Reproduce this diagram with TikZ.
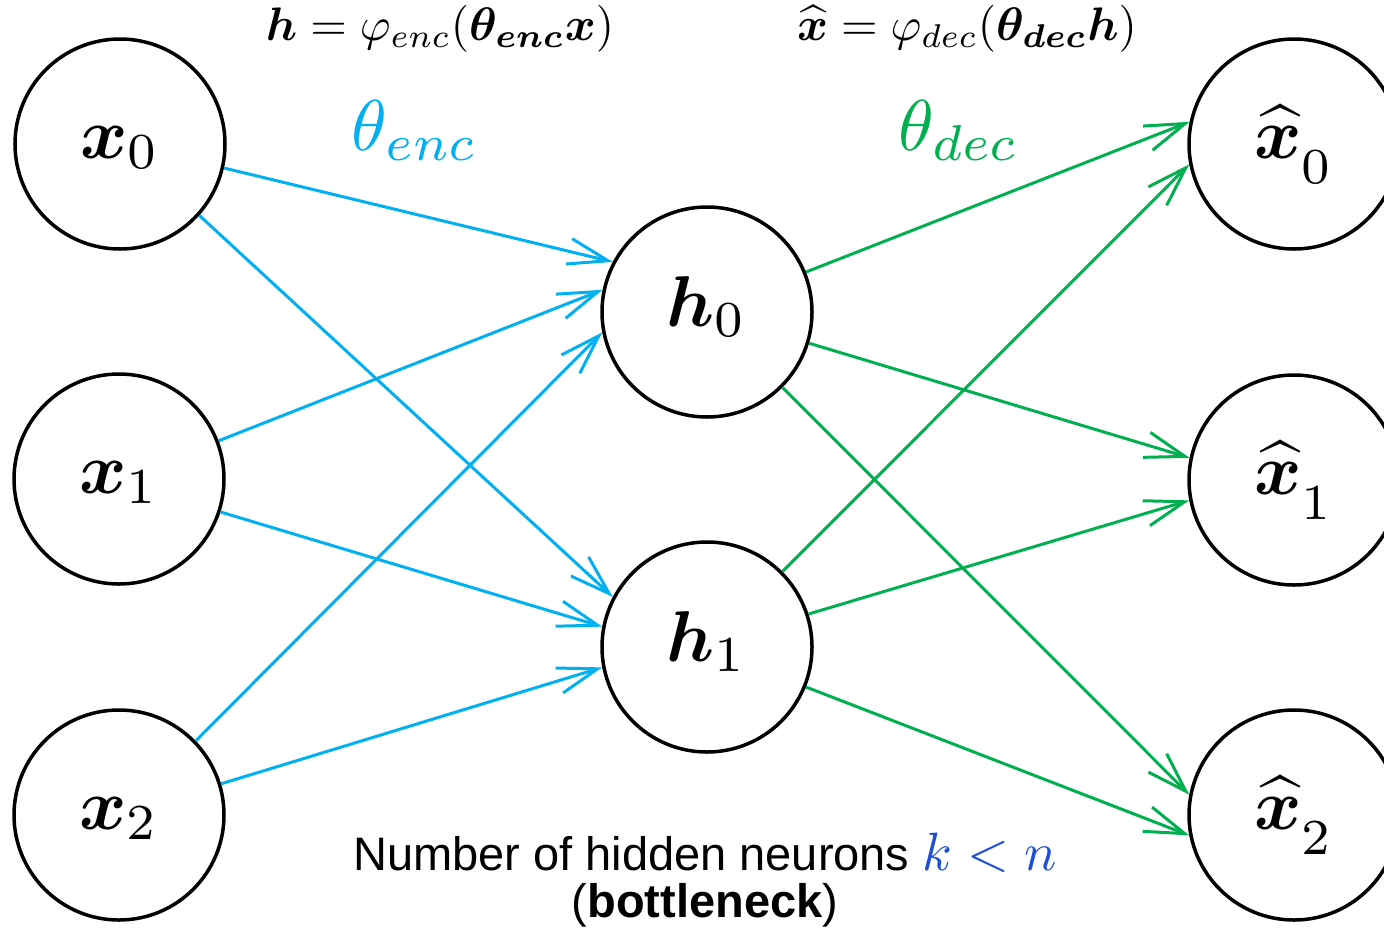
\documentclass[tikz,border=0pt]{standalone}
\usepackage{amsmath}
\usepackage{bm}
\usepackage{graphicx}
\usepackage{fontspec}
\setsansfont{Liberation Sans}
\usetikzlibrary{arrows.meta}
\definecolor{encblue}{HTML}{00B0F0}
\definecolor{decgreen}{HTML}{00B050}
\definecolor{kblue}{HTML}{1F4FD6}
\newcommand{\nlab}[1]{\scalebox{3.6}{\normalsize$#1$}}
\newcommand{\flab}[1]{\scalebox{2.35}{\normalsize$#1$}}
\begin{document}
\begin{tikzpicture}[x=0.5pt,y=-0.5pt,
  neuron/.style={circle,draw=black,line width=1.75pt,minimum size=105pt,inner sep=0pt,
    text height=21pt,text depth=7pt},
  encedge/.style={draw=encblue,line width=1.5pt,-{Straight Barb[length=20pt,width=13pt]}},
  decedge/.style={draw=decgreen,line width=1.5pt,-{Straight Barb[length=20pt,width=13pt]}},
  formula/.style={anchor=base,inner sep=0pt},
  thetalabel/.style={anchor=base,inner sep=0pt},
  bottomtext/.style={anchor=base,inner sep=0pt,font=\sffamily\fontsize{23.5}{28}\selectfont}
]
\clip (0,0) rectangle (1384,932);
\fill[white] (0,0) rectangle (1384,932);

% neurons
\node[neuron] (x0) at (120,144) {\nlab{\boldsymbol{x}_0}};
\node[neuron] (x1) at (119,479) {\nlab{\boldsymbol{x}_1}};
\node[neuron] (x2) at (119,815) {\nlab{\boldsymbol{x}_2}};
\node[neuron] (h0) at (707,312) {\nlab{\boldsymbol{h}_0}};
\node[neuron] (h1) at (707,647) {\nlab{\boldsymbol{h}_1}};
\node[neuron] (y0) at (1294,144) {\nlab{\widehat{\boldsymbol{x}}_{\lower2pt\hbox{$\scriptstyle 0$}}}};
\node[neuron] (y1) at (1294,480) {\nlab{\widehat{\boldsymbol{x}}_{\lower2pt\hbox{$\scriptstyle 1$}}}};
\node[neuron] (y2) at (1294,815) {\nlab{\widehat{\boldsymbol{x}}_{\lower2pt\hbox{$\scriptstyle 2$}}}};

% encoder edges
\draw[encedge] (x0.-13) -- (h0.152);
\draw[encedge] (x0.-42) -- (h1.152);
\draw[encedge] (x1.21.5) -- (h0.168);
\draw[encedge] (x1.-18) -- (h1.169);
\draw[encedge] (x2.44) -- (h0.191);
\draw[encedge] (x2.17) -- (h1.191);

% decoder edges
\draw[decedge] (h0.22) -- (y0.168);
\draw[decedge] (h0.-17) -- (y1.168);
\draw[decedge] (h0.-45) -- (y2.169);
\draw[decedge] (h1.45) -- (y0.191);
\draw[decedge] (h1.18) -- (y1.191);
\draw[decedge] (h1.-22) -- (y2.191);

% formulas
\node[formula] (fenc) at (440,40) {\flab{\boldsymbol{h} = \varphi_{enc}(\boldsymbol{\theta}_{\boldsymbol{enc}}\boldsymbol{x})}};
\node[formula] (fdec) at (967,40) {\flab{\widehat{\boldsymbol{x}} = \varphi_{dec}(\boldsymbol{\theta}_{\boldsymbol{dec}}\boldsymbol{h})}};

\node[thetalabel] (tenc) at (415,150) {\nlab{\color{encblue}\theta_{enc}}};
\node[thetalabel] (tdec) at (959,150) {\nlab{\color{decgreen}\theta_{dec}}};

% bottom text
\node[bottomtext] (bt1) at (705,870) {Number of hidden neurons \scalebox{2.7}{\normalsize$\color{kblue}k<n$}};
\node[bottomtext] (bt2) at (705,917) {(\textbf{bottleneck})};
\end{tikzpicture}
\end{document}
